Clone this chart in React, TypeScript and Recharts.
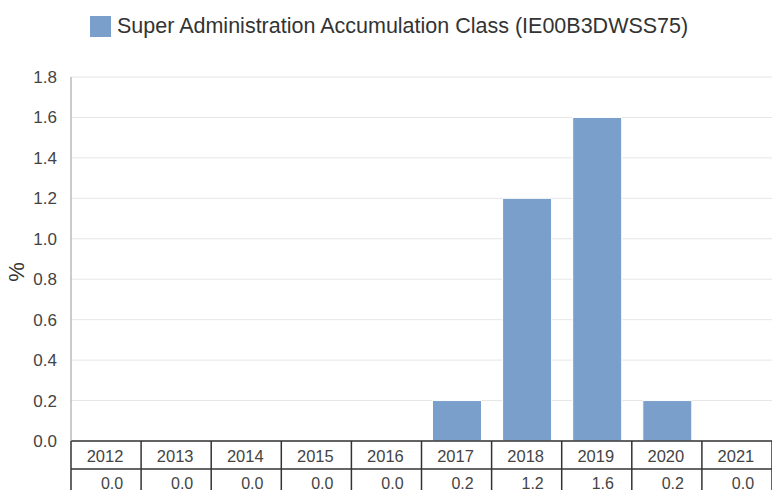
import { BarChart, Bar, XAxis, YAxis, CartesianGrid, Legend } from "recharts";

const years = ["2012", "2013", "2014", "2015", "2016", "2017", "2018", "2019", "2020", "2021"];
const returns = [0.0, 0.0, 0.0, 0.0, 0.0, 0.2, 1.2, 1.6, 0.2, 0.0];
const yTicks = [0, 0.2, 0.4, 0.6, 0.8, 1.0, 1.2, 1.4, 1.6, 1.8];
const seriesName = "Super Administration Accumulation Class (IE00B3DWSS75)";

const FONT = "'Liberation Sans', Arial, sans-serif";
const BAR_COLOR = "#7a9fcb";

const data = years.map((year, i) => ({ year, value: returns[i] }));

// table-like x axis: year row + value row with cell borders
const TableTick = (props: any) => {
  const { x, y, payload, index } = props;
  const cellW = 70.1;
  const left = x - cellW / 2;
  const right = x + cellW / 2;
  const top = y;
  return (
    <g>
      <line x1={left} y1={top} x2={left} y2={top + 50} stroke="#333" strokeWidth={1.5} />
      {index === years.length - 1 && (
        <line x1={right} y1={top} x2={right} y2={top + 50} stroke="#333" strokeWidth={1.5} />
      )}
      <line x1={left} y1={top + 28} x2={right} y2={top + 28} stroke="#333" strokeWidth={1.5} />
      <text x={x - 1} y={top + 21} textAnchor="middle" fontSize={16.5} fill="#444" fontFamily={FONT}>
        {payload.value}
      </text>
      <text x={x + 6} y={top + 48} textAnchor="middle" fontSize={16} fill="#444" fontFamily={FONT}>
        {returns[index].toFixed(1)}
      </text>
    </g>
  );
};

const LegendContent = () => (
  <div style={{ display: "flex", alignItems: "center", fontFamily: FONT, fontSize: 21.5, color: "#333" }}>
    <span style={{ display: "inline-block", width: 21, height: 21, background: BAR_COLOR, marginRight: 6 }} />
    <span>{seriesName}</span>
  </div>
);

const YLabel = (props: any) => {
  const { viewBox } = props;
  const cx = viewBox.x + 16;
  const cy = viewBox.y + viewBox.height / 2 + 13;
  return (
    <text
      x={cx}
      y={cy}
      transform={`rotate(-90 ${cx} ${cy})`}
      textAnchor="middle"
      dominantBaseline="central"
      fontSize={22}
      fill="#333"
      fontFamily={FONT}
    >
      %
    </text>
  );
};

export default function App() {
  return (
    <div style={{ position: "absolute", left: 0, top: 0, width: 772, height: 490, background: "#fff" }}>
      <BarChart
        width={772}
        height={490}
        data={data}
        margin={{ top: 52, right: 0, left: 0, bottom: 0 }}
      >
        <Legend
          verticalAlign="top"
          align="left"
          content={<LegendContent />}
          wrapperStyle={{ top: 14, left: 90, width: "auto" }}
        />
        <CartesianGrid horizontal vertical={false} stroke="#e6e6e6" />
        <XAxis
          dataKey="year"
          height={49}
          interval={0}
          tickLine={false}
          tickSize={0}
          tickMargin={0}
          axisLine={{ stroke: "#333", strokeWidth: 1.5 }}
          tick={<TableTick />}
        />
        <YAxis
          width={71}
          domain={[0, 1.8]}
          ticks={yTicks}
          tickFormatter={(v: number) => v.toFixed(1)}
          tickLine={false}
          axisLine={{ stroke: "#999" }}
          tickMargin={8}
          tick={{ fontSize: 17, fill: "#444", fontFamily: FONT }}
          label={<YLabel />}
        />
        <Bar dataKey="value" name={seriesName} fill={BAR_COLOR} stroke="#ffffff" strokeWidth={1} barSize={49} isAnimationActive={false} />
      </BarChart>
    </div>
  );
}
